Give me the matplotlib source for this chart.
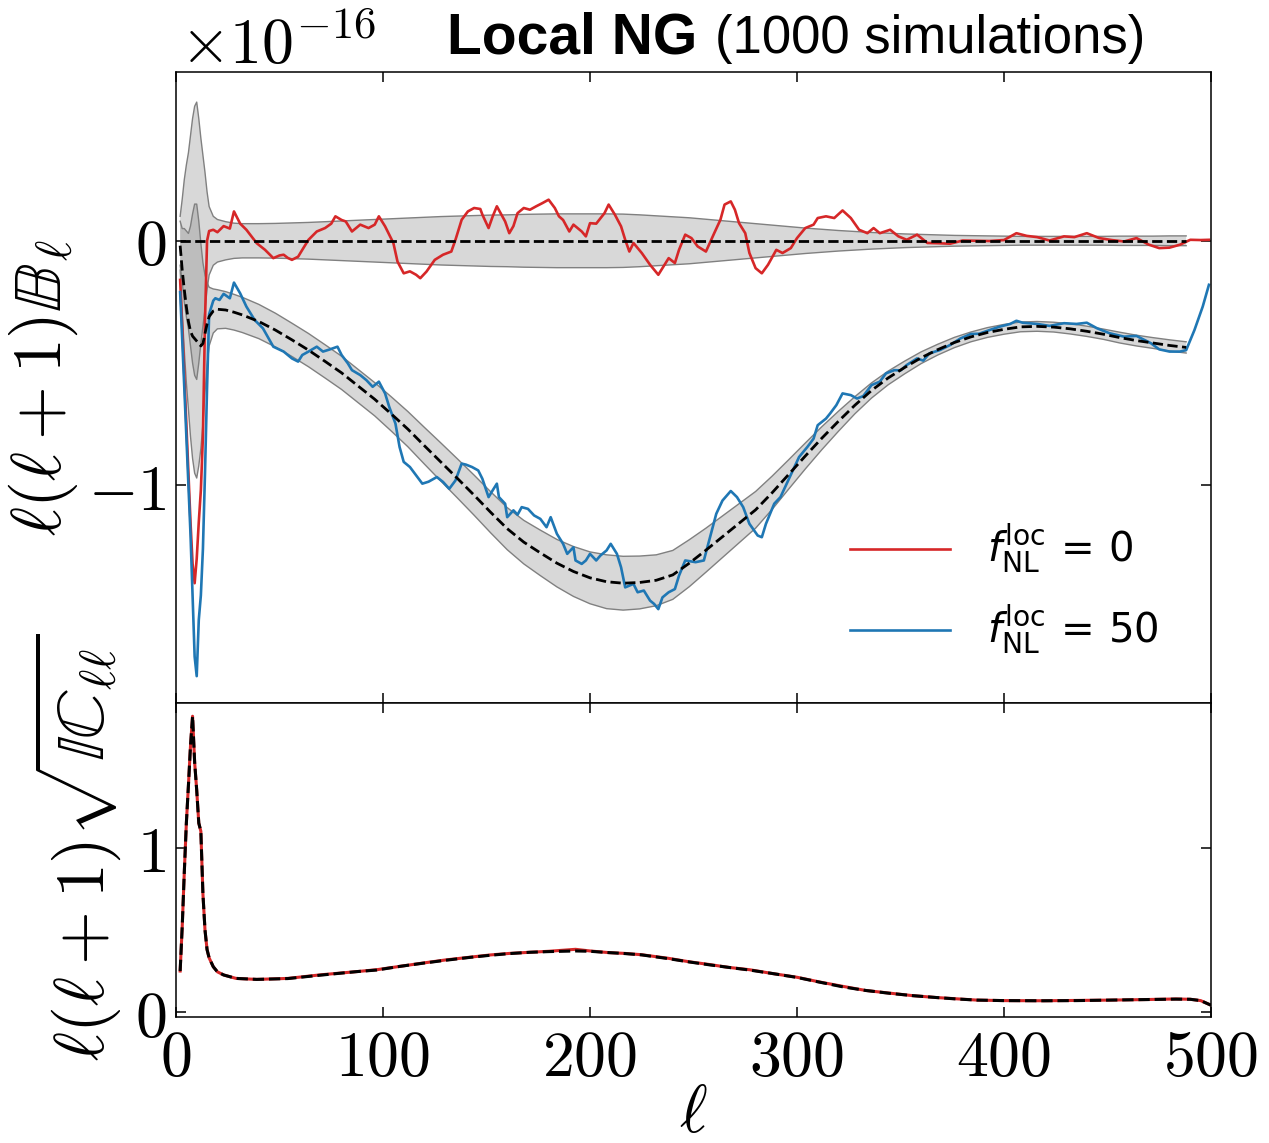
import matplotlib
matplotlib.use("Agg")
import matplotlib.pyplot as plt
from matplotlib.ticker import FuncFormatter, FixedLocator
import numpy as np

plt.rcParams["mathtext.fontset"] = "cm"

# ---- theory grid for expectation curves and 1-sigma bands (units of 1e-16) ----
ell_th = [2, 3, 4, 5, 6, 7, 8, 9, 10, 11, 12, 13, 14, 15, 16, 18, 20, 24, 28,
          32, 40, 48, 56, 64, 72, 80, 88, 96, 104, 112, 120, 128, 136, 144, 152,
          160, 168, 176, 184, 192, 200, 208, 216, 224, 232, 240, 248, 256, 264,
          272, 280, 288, 296, 304, 312, 320, 328, 336, 344, 352, 360, 368, 376,
          384, 392, 400, 408, 416, 424, 432, 440, 448, 456, 464, 472, 480, 488]
mean_50 = [-0.02, -0.12, -0.20, -0.27, -0.33, -0.37, -0.39, -0.40, -0.41, -0.42,
           -0.43, -0.42, -0.38, -0.34, -0.31, -0.287, -0.28, -0.283, -0.292,
           -0.303, -0.33, -0.365, -0.405, -0.447, -0.493, -0.54, -0.594, -0.648,
           -0.708, -0.77, -0.838, -0.905, -0.972, -1.04, -1.11, -1.177, -1.232,
           -1.276, -1.318, -1.352, -1.378, -1.394, -1.40, -1.397, -1.388, -1.366,
           -1.318, -1.265, -1.21, -1.155, -1.10, -1.03, -0.955, -0.88, -0.807,
           -0.738, -0.672, -0.612, -0.561, -0.518, -0.478, -0.445, -0.416, -0.393,
           -0.375, -0.362, -0.352, -0.350, -0.353, -0.360, -0.370, -0.382, -0.396,
           -0.408, -0.418, -0.428, -0.436]
sigma_0 = [0.10, 0.17, 0.25, 0.31, 0.36, 0.43, 0.50, 0.55, 0.567, 0.50, 0.42,
           0.35, 0.28, 0.20, 0.14, 0.10, 0.087, 0.078, 0.072, 0.070, 0.070, 0.071,
           0.073, 0.075, 0.078, 0.081, 0.084, 0.087, 0.090, 0.093, 0.096, 0.099,
           0.101, 0.103, 0.105, 0.106, 0.108, 0.109, 0.110, 0.110, 0.110, 0.110,
           0.109, 0.106, 0.102, 0.098, 0.094, 0.088, 0.082, 0.076, 0.070, 0.064,
           0.058, 0.052, 0.047, 0.042, 0.038, 0.034, 0.031, 0.028, 0.026, 0.024,
           0.022, 0.021, 0.020, 0.019, 0.018, 0.018, 0.018, 0.018, 0.018, 0.018,
           0.019, 0.019, 0.019, 0.020, 0.020]
sigma_50 = [0.10, 0.17, 0.25, 0.31, 0.36, 0.43, 0.50, 0.55, 0.56, 0.50, 0.42,
            0.33, 0.24, 0.17, 0.12, 0.09, 0.08, 0.075, 0.073, 0.072, 0.070, 0.069,
            0.068, 0.068, 0.068, 0.068, 0.068, 0.068, 0.070, 0.072, 0.075, 0.078,
            0.080, 0.082, 0.084, 0.086, 0.089, 0.093, 0.097, 0.102, 0.106, 0.110,
            0.110, 0.108, 0.104, 0.100, 0.096, 0.090, 0.085, 0.080, 0.075, 0.068,
            0.060, 0.053, 0.047, 0.041, 0.035, 0.031, 0.028, 0.026, 0.024, 0.022,
            0.021, 0.020, 0.020, 0.020, 0.020, 0.020, 0.020, 0.021, 0.021, 0.021,
            0.022, 0.022, 0.022, 0.023, 0.023]

# ---- measured B_ell, fNL = 0 ----
red_ell = [2, 3, 4, 5, 6, 7, 8, 9, 10, 11, 12, 13, 14, 15, 16, 18, 20, 23, 26, 28,
           31, 34, 39, 43, 47, 50, 52, 54, 56, 59, 61, 64, 68, 72, 75, 77, 80, 82,
           85, 89, 93, 96, 98, 101, 105, 107, 110, 113, 116, 118, 121, 125, 129,
           133, 135, 138, 141, 144, 147, 148, 151, 153, 155, 157, 159, 161, 163,
           165, 168, 171, 174, 177, 180, 183, 185, 187, 190, 192, 196, 198, 200,
           203, 207, 209, 212, 215, 217, 219, 221, 225, 229, 233, 235, 238, 241,
           243, 246, 249, 252, 256, 260, 263, 265, 268, 270, 272, 275, 277, 280,
           283, 286, 290, 293, 297, 300, 304, 308, 310, 314, 318, 322, 326, 330,
           334, 337, 340, 345, 349, 353, 358, 363, 368, 374, 380, 386, 393, 400,
           406, 411, 416, 422, 429, 434, 440, 446, 452, 458, 464, 470, 475, 480,
           485, 490, 495, 499]
red_val = [-0.16, -0.35, -0.55, -0.75, -0.95, -1.15, -1.32, -1.40, -1.30, -1.15,
           -1.02, -0.80, -0.33, 0.00, 0.04, 0.045, 0.035, 0.06, 0.05, 0.12, 0.07,
           0.045, -0.01, -0.037, -0.071, -0.06, -0.057, -0.07, -0.078, -0.065,
           -0.037, 0.004, 0.038, 0.052, 0.07, 0.10, 0.085, 0.079, 0.038, 0.066,
           0.052, 0.066, 0.10, 0.059, -0.009, -0.085, -0.133, -0.125, -0.139,
           -0.153, -0.126, -0.078, -0.057, -0.044, 0.004, 0.086, 0.12, 0.134, 0.13,
           0.107, 0.052, 0.10, 0.141, 0.11, 0.079, 0.031, 0.06, 0.113, 0.134, 0.127,
           0.141, 0.154, 0.168, 0.134, 0.10, 0.085, 0.038, 0.066, 0.038, 0.018,
           0.072, 0.07, 0.113, 0.148, 0.107, 0.059, 0.004, -0.044, -0.009, -0.05,
           -0.098, -0.139, -0.112, -0.071, -0.091, -0.037, 0.025, 0.011, -0.023,
           -0.044, 0.031, 0.086, 0.148, 0.161, 0.127, 0.072, 0.031, -0.05, -0.112,
           -0.133, -0.098, -0.037, -0.05, -0.03, 0.011, 0.052, 0.066, 0.093, 0.10,
           0.093, 0.124, 0.093, 0.045, 0.031, 0.052, 0.031, 0.045, 0.018, 0.004,
           0.025, -0.009, -0.01, -0.012, 0.001, 0.0, -0.001, 0.003, 0.031, 0.02,
           0.015, 0.001, 0.018, 0.015, 0.031, 0.011, 0.003, -0.003, 0.011, -0.016,
           -0.03, -0.028, -0.016, 0.004, 0.003, 0.004]

# ---- measured B_ell, fNL = 50 ----
blue_ell = [2, 3, 4, 5, 6, 7, 8, 9, 10, 11, 12, 13, 14, 15, 16, 18, 19, 21, 23,
            26, 28, 31, 34, 38, 42, 47, 52, 56, 59, 61, 64, 68, 71, 74, 78, 80, 83,
            85, 89, 92, 95, 98, 101, 103, 106, 108, 110, 113, 116, 119, 122, 126,
            129, 132, 135, 138, 140, 143, 146, 148, 151, 153, 155, 156, 159, 160,
            163, 165, 167, 170, 173, 176, 179, 181, 184, 187, 189, 192, 193, 196,
            198, 200, 203, 205, 208, 210, 213, 215, 217, 221, 223, 226, 229, 231,
            233, 235, 238, 241, 243, 246, 251, 255, 258, 261, 264, 268, 271, 274,
            277, 281, 283, 285, 289, 292, 295, 298, 301, 305, 308, 310, 314, 316,
            319, 322, 326, 329, 332, 336, 340, 343, 347, 350, 353, 358, 361, 364,
            369, 374, 379, 384, 388, 393, 398, 403, 406, 409, 416, 422, 429, 435,
            440, 445, 451, 458, 464, 471, 475, 480, 485, 488, 492, 496, 499]
blue_val = [-0.21, -0.40, -0.60, -0.80, -1.00, -1.20, -1.45, -1.70, -1.78, -1.55,
            -1.45, -1.26, -0.95, -0.60, -0.30, -0.245, -0.235, -0.242, -0.217,
            -0.235, -0.171, -0.215, -0.269, -0.324, -0.358, -0.433, -0.453, -0.481,
            -0.494, -0.467, -0.453, -0.433, -0.453, -0.445, -0.433, -0.467, -0.501,
            -0.529, -0.549, -0.57, -0.597, -0.576, -0.624, -0.679, -0.747, -0.843,
            -0.904, -0.925, -0.959, -0.993, -0.985, -0.966, -0.986, -1.014, -0.98,
            -0.911, -0.915, -0.925, -0.939, -0.973, -1.048, -1.02, -0.993, -1.048,
            -1.075, -1.13, -1.102, -1.12, -1.089, -1.096, -1.123, -1.137, -1.171,
            -1.13, -1.198, -1.239, -1.28, -1.253, -1.307, -1.321, -1.307, -1.28,
            -1.307, -1.287, -1.266, -1.239, -1.28, -1.335, -1.417, -1.403, -1.437,
            -1.43, -1.471, -1.485, -1.506, -1.458, -1.437, -1.424, -1.369, -1.307,
            -1.314, -1.307, -1.212, -1.116, -1.062, -1.023, -1.048, -1.089, -1.157,
            -1.205, -1.212, -1.157, -1.075, -1.048, -0.993, -0.939, -0.884, -0.843,
            -0.809, -0.754, -0.727, -0.706, -0.672, -0.624, -0.631, -0.645, -0.635,
            -0.59, -0.576, -0.542, -0.529, -0.53, -0.508, -0.481, -0.49, -0.46,
            -0.447, -0.426, -0.399, -0.381, -0.38, -0.365, -0.351, -0.34, -0.327,
            -0.335, -0.34, -0.348, -0.337, -0.34, -0.335, -0.358, -0.378, -0.392,
            -0.389, -0.419, -0.444, -0.453, -0.453, -0.447, -0.365, -0.269, -0.18]

# ---- normalisation l(l+1) sqrt(IC_ll) ----
cl_ell = [2, 3, 4, 5, 6, 7, 8, 9, 10, 11, 12, 13, 14, 15, 16, 18, 20, 23, 29,
          39, 54, 70, 87, 97, 108, 119, 130, 142, 152, 161, 171, 180, 193, 200,
          209, 217, 225, 238, 248, 258, 267, 277, 288, 300, 311, 322, 333, 345,
          356, 367, 377, 387, 400, 419, 435, 451, 467, 483, 490, 495, 500]
norm_theory = [0.25, 0.52, 0.85, 1.15, 1.38, 1.62, 1.80, 1.52, 1.35, 1.15, 1.10,
               0.72, 0.50, 0.38, 0.33, 0.276, 0.245, 0.226, 0.205, 0.199, 0.204,
               0.225, 0.246, 0.256, 0.278, 0.297, 0.315, 0.333, 0.346, 0.356,
               0.364, 0.368, 0.372, 0.370, 0.362, 0.356, 0.348, 0.325, 0.305,
               0.287, 0.272, 0.256, 0.235, 0.211, 0.182, 0.154, 0.132, 0.114,
               0.100, 0.089, 0.080, 0.073, 0.070, 0.069, 0.070, 0.073, 0.076,
               0.079, 0.078, 0.070, 0.042]
norm_sims = [0.25, 0.52, 0.85, 1.15, 1.38, 1.62, 1.80, 1.52, 1.35, 1.15, 1.10,
             0.72, 0.50, 0.38, 0.33, 0.276, 0.245, 0.226, 0.205, 0.199, 0.205,
             0.227, 0.246, 0.258, 0.278, 0.298, 0.317, 0.334, 0.348, 0.357,
             0.364, 0.370, 0.382, 0.372, 0.362, 0.357, 0.349, 0.327, 0.306,
             0.289, 0.272, 0.258, 0.235, 0.212, 0.183, 0.157, 0.132, 0.115,
             0.100, 0.089, 0.081, 0.073, 0.070, 0.069, 0.071, 0.073, 0.076,
             0.080, 0.078, 0.070, 0.042]

ell_th_a = np.array(ell_th)
mean_50_a = np.array(mean_50)
sig0 = np.array(sigma_0)
sig50 = np.array(sigma_50)

fig = plt.figure(figsize=(12.69, 11.43), dpi=100)
ax1 = fig.add_axes([0.1387, 0.3849, 0.8156, 0.5521])
ax2 = fig.add_axes([0.1387, 0.1102, 0.8156, 0.2747], sharex=ax1)

# bands
ax1.fill_between(ell_th_a, -sig0, sig0, facecolor="gray", alpha=0.3,
                 edgecolor="none")
ax1.plot(ell_th_a, sig0, color="gray", lw=1.0)
ax1.plot(ell_th_a, -sig0, color="gray", lw=1.0)
ax1.fill_between(ell_th_a, mean_50_a - sig50, mean_50_a + sig50,
                 facecolor="gray", alpha=0.3, edgecolor="none")
ax1.plot(ell_th_a, mean_50_a + sig50, color="gray", lw=1.0)
ax1.plot(ell_th_a, mean_50_a - sig50, color="gray", lw=1.0)

ax1.plot(red_ell, red_val, color="#d62728", lw=1.9,
         label=r"$f_{\rm NL}^{\rm loc}\,=\,0$")
ax1.plot(blue_ell, blue_val, color="#1f77b4", lw=1.9,
         label=r"$f_{\rm NL}^{\rm loc}\,=\,50$")
ax1.plot(ell_th_a, np.zeros_like(ell_th_a, dtype=float), color="black", ls="--",
         lw=2.0)
ax1.plot(ell_th_a, mean_50_a, color="black", ls="--", lw=2.0)

ax1.set_xlim(0, 500)
ax1.set_ylim(-1.89, 0.69)

ax2.plot(cl_ell, norm_sims, color="#d62728", lw=2.2)
ax2.plot(cl_ell, norm_theory, color="black", ls="--", lw=2.2)
ax2.set_ylim(-0.03, 1.88)

fmt = FuncFormatter(lambda v, p: r"$%g$" % v)
for ax in (ax1, ax2):
    ax.tick_params(direction="in", top=True, right=True, length=7, width=1.1,
                   labelsize=46, pad=7)
    ax.xaxis.set_major_locator(FixedLocator([0, 100, 200, 300, 400, 500]))
    ax.yaxis.set_major_formatter(fmt)
    ax.xaxis.set_major_formatter(fmt)
    for s in ax.spines.values():
        s.set_linewidth(1.1)
ax1.yaxis.set_major_locator(FixedLocator([-1, 0]))
ax2.yaxis.set_major_locator(FixedLocator([0, 1]))
ax1.tick_params(labelbottom=False)

ax1.set_ylabel(r"$\ell(\ell+1)\mathbb{B}_\ell$", fontsize=50)
ax1.yaxis.set_label_coords(-0.093, 0.5)
ax2.set_ylabel(r"$\ell(\ell+1)\sqrt{\mathbb{IC}_{\ell\ell}}$", fontsize=50)
ax2.yaxis.set_label_coords(-0.05, 0.54)
ax2.set_xlabel(r"$\ell$", fontsize=48, labelpad=-6)

ax1.text(0.004, 1.013, r"$\times10^{-16}$", transform=ax1.transAxes,
         fontsize=46, va="baseline", ha="left")

leg = ax1.legend(loc="center", bbox_to_anchor=(0.80, 0.179), frameon=False,
                 fontsize=29, handlelength=2.5, handletextpad=0.9,
                 labelspacing=0.7)
for t in leg.get_texts():
    t.set_math_fontfamily("dejavusans")

fig.text(0.3522, 0.9536, "Local NG", fontsize=41, fontweight="bold",
         family="Liberation Sans", va="baseline", ha="left")
fig.text(0.5635, 0.9536, "(1000 simulations)", fontsize=38,
         family="Liberation Sans", va="baseline", ha="left")

fig.savefig("out.png", dpi=100)
